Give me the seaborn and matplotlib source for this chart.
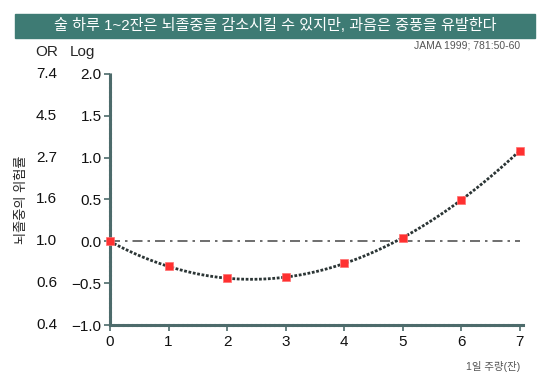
import numpy as np
import pandas as pd
import matplotlib
matplotlib.use('Agg')
import matplotlib.pyplot as plt
import seaborn as sns
from matplotlib.patches import Rectangle

# data
drinks = [0, 1, 2, 3, 4, 5, 6, 7]
log_or = [0.0, -0.30, -0.44, -0.43, -0.26, 0.045, 0.49, 1.085]
log_ticks = [2.0, 1.5, 1.0, 0.5, 0.0, -0.5, -1.0]
log_labels = ['2.0', '1.5', '1.0', '0.5', '0.0', '\u22120.5', '\u22121.0']
or_labels = ['7.4', '4.5', '2.7', '1.6', '1.0', '0.6', '0.4']

title = '술 하루 1~2잔은 뇌졸중을 감소시킬 수 있지만, 과음은 중풍을 유발한다'
source = 'JAMA 1999; 781:50-60'
ylabel = '뇌졸중의 위험률'
xlabel = '1일 주량(잔)'

df = pd.DataFrame({'drinks': drinks, 'log_or': log_or})

sns.set_style('ticks')
plt.rcParams['font.family'] = ['Liberation Sans', 'Noto Sans CJK KR', 'DejaVu Sans']

fig = plt.figure(figsize=(5.5, 3.87), dpi=100)
ax = fig.add_axes([0.2, 0.16, 0.745, 0.649])

teal = '#3e7b74'
spine_col = '#4d6b6b'

# zero reference line
ax.axhline(0, xmin=0, xmax=1, color='#555555', lw=1.2, linestyle=(0, (6, 3, 1.5, 3)), zorder=1)

# fitted curve
sns.regplot(data=df, x='drinks', y='log_or', order=3, ci=None, scatter=False,
            truncate=True, ax=ax,
            line_kws=dict(color='#2b3535', lw=2.0, linestyle=(0, (1, 0.6)), zorder=2))

# red square points
sns.scatterplot(data=df, x='drinks', y='log_or', marker='s', s=28, color='#ff3030',
                edgecolor='#ff7070', linewidth=0.5, ax=ax, zorder=3, clip_on=False)

ax.set_xlim(0, 7)
ax.set_ylim(-1.0, 2.0)
ax.set_xticks(drinks)
ax.set_yticks(log_ticks)
ax.set_yticklabels(log_labels)
ax.set_xlabel('')
ax.set_ylabel('')
ax.tick_params(axis='both', labelsize=11, color=spine_col, length=4, width=1.2, colors='#111111')
ax.tick_params(axis='y', pad=2)
ax.tick_params(axis='x', pad=3)

sns.despine(ax=ax)
for side in ['left', 'bottom']:
    ax.spines[side].set_color(spine_col)
    ax.spines[side].set_linewidth(2.2)
    ax.spines[side].set_linestyle((0, (1, 0.5)))
ax.spines['bottom'].set_bounds(0, 7.05)

# OR labels column
trans = matplotlib.transforms.blended_transform_factory(fig.transFigure, ax.transData)
for v, lab in zip(log_ticks, or_labels):
    ax.text(0.104, v, lab, transform=trans, ha='right', va='center', fontsize=11, color='#111111')

fig.text(0.064, 1 - 52 / 387, 'OR', fontsize=11, ha='left', va='center')
fig.text(0.126, 1 - 52 / 387, 'Log', fontsize=11, ha='left', va='center')

fig.text(0.04, 0.485, ylabel, rotation=90, fontsize=9.5, ha='center', va='center')
fig.text(0.945, 1 - 366 / 387, xlabel, fontsize=7.5, ha='right', va='center', color='#555555')
fig.text(0.945, 1 - 46 / 387, source, fontsize=7.5, ha='right', va='center', color='#555555')

# title banner
fig.patches.append(Rectangle((15 / 550, 1 - 38 / 387), 520 / 550, 24 / 387,
                             transform=fig.transFigure, color=teal, zorder=0))
fig.text(275 / 550, 1 - 26 / 387, title, color='white', fontsize=10.9, ha='center', va='center')

fig.savefig('out.png', dpi=100)
